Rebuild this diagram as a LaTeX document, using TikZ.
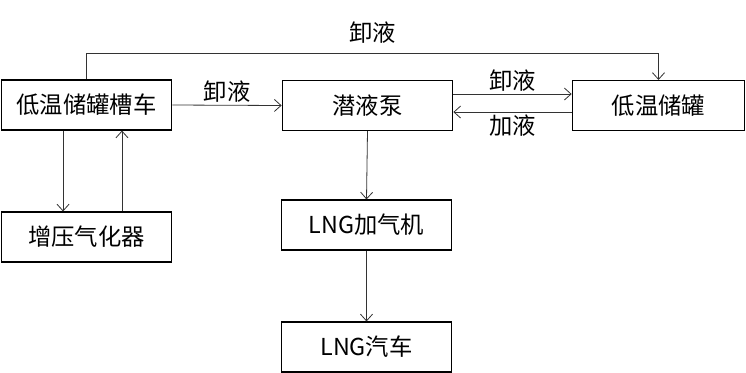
\documentclass[tikz,border=0pt]{standalone}
\usepackage{fontspec}
\setmainfont{Noto Sans CJK SC}
\usetikzlibrary{arrows.meta}

\begin{document}
\begin{tikzpicture}[
    x=0.75pt, y=-0.75pt,
    unitbox/.style = {rectangle, draw=black, thick, minimum width=128pt, minimum height=37.5pt, inner sep=0pt, font=\fontsize{17.5}{20}\selectfont},
    flow/.style = {draw=black!80, -{Straight Barb[length=5pt,width=9pt]}, semithick},
    tag/.style = {font=\fontsize{17.5}{20}\selectfont, inner sep=2pt}
]
\useasboundingbox (0,0) rectangle (746,372);

% Boxes
\node (n_truck) [unitbox] at (86.5, 105) {低温储罐槽车};
\node (n_vap) [unitbox] at (86.5, 237) {增压气化器};
\node (n_pump) [unitbox] at (367.5, 105.5) {潜液泵};
\node (n_store) [unitbox, minimum width=129.5pt] at (658.5, 105.5) {低温储罐};
\node (n_disp) [unitbox] at (366.5, 225) {LNG加气机};
\node (n_car) [unitbox] at (366.5, 347) {LNG汽车};

% Connections
\draw [flow] (n_truck.north) -- ++(0,-26) -| node[pos=0.25, above, tag, yshift=5pt]{卸液} (n_store.north);
\draw [flow] (n_truck.east) -- node[above, tag]{卸液} (n_pump.west);
\draw [flow] ([yshift=8.6pt]n_pump.east) -- node[above, tag]{卸液} ([yshift=8.6pt]n_store.west);
\draw [flow] ([yshift=-4.9pt]n_store.west) -- node[below, tag]{加液} ([yshift=-4.9pt]n_pump.east);
\draw [flow] ([xshift=-17.6pt]n_truck.south) -- ([xshift=-17.6pt]n_vap.north);
\draw [flow] ([xshift=26.6pt]n_vap.north) -- ([xshift=26.6pt]n_truck.south);
\draw [flow] (n_pump.south) -- (n_disp.north);
\draw [flow] (n_disp.south) -- (n_car.north);

\end{tikzpicture}
\end{document}
